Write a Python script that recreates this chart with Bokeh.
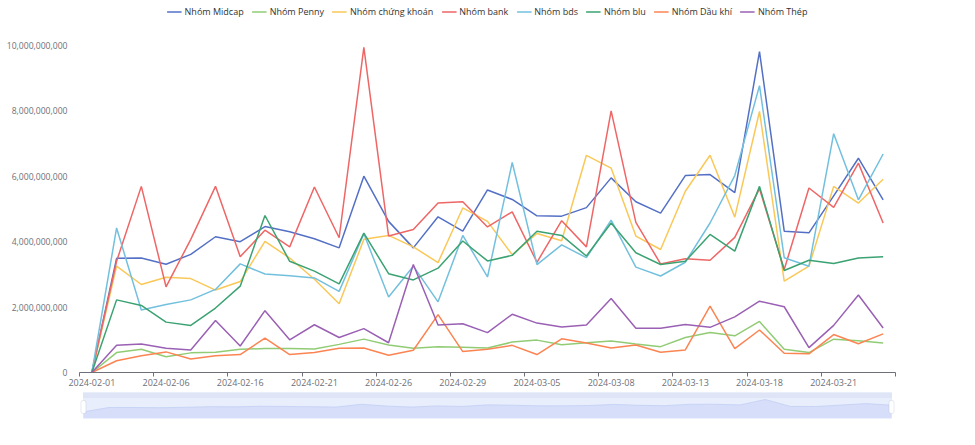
from bokeh.plotting import figure
from bokeh.layouts import column
from bokeh.models import (FixedTicker, NumeralTickFormatter, Range1d, Legend, LegendItem,
                          BoxAnnotation)
from bokeh.embed import file_html
from bokeh.resources import INLINE

# ---------------- data ----------------
dates = ["2024-02-01", "2024-02-02", "2024-02-05", "2024-02-06", "2024-02-07", "2024-02-15",
         "2024-02-16", "2024-02-19", "2024-02-20", "2024-02-21", "2024-02-22", "2024-02-23",
         "2024-02-26", "2024-02-27", "2024-02-28", "2024-02-29", "2024-03-01", "2024-03-04",
         "2024-03-05", "2024-03-06", "2024-03-07", "2024-03-08", "2024-03-11", "2024-03-12",
         "2024-03-13", "2024-03-14", "2024-03-15", "2024-03-18", "2024-03-19", "2024-03-20",
         "2024-03-21", "2024-03-22", "2024-03-25"]

B = 1e9
midcap = [0, 3.49, 3.50, 3.31, 3.61, 4.15, 4.00, 4.46, 4.30, 4.09, 3.81, 6.00, 4.62, 3.81, 4.76, 4.32,
          5.58, 5.29, 4.79, 4.78, 5.04, 5.95, 5.22, 4.87, 6.02, 6.05, 5.50, 9.81, 4.32, 4.27, 5.40, 6.55, 5.28]
penny = [0, 0.61, 0.71, 0.48, 0.60, 0.62, 0.71, 0.73, 0.73, 0.72, 0.86, 1.02, 0.84, 0.74, 0.79, 0.77,
         0.75, 0.93, 0.99, 0.85, 0.91, 0.96, 0.87, 0.79, 1.07, 1.22, 1.12, 1.56, 0.71, 0.61, 1.02, 0.97, 0.90]
chungkhoan = [0, 3.25, 2.69, 2.91, 2.87, 2.52, 2.78, 4.01, 3.50, 2.85, 2.10, 4.07, 4.19, 3.84, 3.36, 5.03,
              4.62, 3.60, 4.25, 4.03, 6.64, 6.25, 4.17, 3.76, 5.54, 6.64, 4.75, 7.98, 2.79, 3.25, 5.69, 5.18, 5.91]
bank = [0, 3.40, 5.69, 2.62, 4.07, 5.69, 3.54, 4.35, 3.84, 5.67, 4.12, 9.94, 4.17, 4.37, 5.18, 5.22,
        4.45, 4.91, 3.37, 4.64, 3.84, 8.00, 4.59, 3.32, 3.48, 3.43, 4.13, 5.62, 3.15, 5.64, 5.05, 6.40, 4.57]
bds = [0, 4.42, 1.91, 2.08, 2.22, 2.54, 3.32, 3.01, 2.96, 2.89, 2.48, 4.24, 2.31, 3.25, 2.16, 4.19,
       2.92, 6.42, 3.30, 3.90, 3.51, 4.66, 3.22, 2.95, 3.37, 4.57, 6.02, 8.77, 3.51, 3.25, 7.30, 5.28, 6.68]
blu = [0, 2.22, 2.05, 1.54, 1.44, 1.97, 2.64, 4.80, 3.40, 3.10, 2.71, 4.26, 3.02, 2.83, 3.19, 4.02,
       3.41, 3.58, 4.32, 4.19, 3.56, 4.57, 3.66, 3.30, 3.40, 4.22, 3.71, 5.69, 3.12, 3.43, 3.33, 3.50, 3.54]
daukhi = [0, 0.36, 0.51, 0.63, 0.41, 0.51, 0.55, 1.05, 0.55, 0.61, 0.74, 0.75, 0.53, 0.68, 1.77, 0.64,
          0.71, 0.83, 0.55, 1.03, 0.90, 0.75, 0.84, 0.62, 0.69, 2.03, 0.73, 1.30, 0.59, 0.57, 1.16, 0.88, 1.18]
thep = [0, 0.83, 0.87, 0.74, 0.69, 1.59, 0.81, 1.89, 1.00, 1.46, 1.07, 1.34, 0.91, 3.30, 1.45, 1.49,
        1.22, 1.78, 1.51, 1.39, 1.45, 2.26, 1.35, 1.35, 1.47, 1.38, 1.70, 2.18, 2.01, 0.76, 1.44, 2.37, 1.36]

series_names = ["Nhóm Midcap", "Nhóm Penny", "Nhóm chứng khoán", "Nhóm bank",
                "Nhóm bds", "Nhóm blu", "Nhóm Dầu khí", "Nhóm Thép"]
series_values = [midcap, penny, chungkhoan, bank, bds, blu, daukhi, thep]
colors = ["#5470c6", "#91cc75", "#fac858", "#ee6666", "#73c0de", "#3ba272", "#fc8452", "#9a60b4"]

y_ticks = [0, 2e9, 4e9, 6e9, 8e9, 10e9]
label_every = 3

FONT = "Open Sans"
AXIS_COLOR = "#6e7079"
W = 970

# ---------------- main chart ----------------
n = len(dates)
idx = list(range(n))
px_per_unit = 32.8 / B           # pixels per value unit (from reference scale)
frame_h = 373
y_top = frame_h / px_per_unit

p = figure(width=W, height=388, output_backend="svg", toolbar_location=None,
           x_range=Range1d(-0.5, n - 0.5), y_range=Range1d(0, y_top),
           min_border_left=79, min_border_right=W - 895, min_border_top=0, min_border_bottom=0)
p.outline_line_color = None
p.xgrid.visible = False
p.ygrid.visible = False
p.background_fill_color = "white"
p.border_fill_color = "white"

items = []
for name, vals, c in zip(series_names, series_values, colors):
    yv = [v * B for v in vals]
    r = p.line(idx, yv, line_color=c, line_width=1.5)
    m = p.scatter(x=[], y=[], marker="circle", fill_color="white", line_color=c, line_width=1.5)
    items.append(LegendItem(label=name, renderers=[r, m]))

legend = Legend(items=items, orientation="horizontal", location="top_center",
                label_text_font=FONT, label_text_font_size="9px", label_text_color="#333333",
                glyph_width=15, glyph_height=17, label_height=12, label_standoff=3,
                spacing=8, padding=0, margin=3, border_line_color=None,
                background_fill_alpha=0)
p.add_layout(legend)

# y axis
p.yaxis.ticker = FixedTicker(ticks=y_ticks)
p.yaxis.formatter = NumeralTickFormatter(format="0,0")
p.yaxis.axis_line_color = None
p.yaxis.major_tick_line_color = None
p.yaxis.minor_tick_line_color = None
p.yaxis.major_label_text_font = FONT
p.yaxis.major_label_text_font_size = "8.6px"
p.yaxis.major_label_text_color = AXIS_COLOR
p.yaxis.major_label_standoff = 6

# x axis (category style: labels at band centres, ticks at band boundaries)
label_ticks = list(range(0, n, label_every))
boundary_ticks = [t - 0.5 for t in range(0, n + 1, label_every)]
p.xaxis.ticker = FixedTicker(ticks=label_ticks, minor_ticks=boundary_ticks)
p.xaxis.major_label_overrides = {t: dates[t] for t in label_ticks}
p.xaxis.axis_line_color = AXIS_COLOR
p.xaxis.major_tick_line_color = None
p.xaxis.major_tick_out = 4
p.xaxis.major_tick_in = 0
p.xaxis.minor_tick_line_color = AXIS_COLOR
p.xaxis.minor_tick_out = 4
p.xaxis.minor_tick_in = 0
p.xaxis.major_label_text_font = FONT
p.xaxis.major_label_text_font_size = "9px"
p.xaxis.major_label_text_color = AXIS_COLOR
p.xaxis.major_label_standoff = 2

# ---------------- data-zoom slider ----------------
vmin, vmax = min(midcap), max(midcap)
rng = vmax - vmin
lo = vmin - 0.53 * rng
hi = vmax + 0.16 * rng
data_px = 21.0
strip_px = 5.0
top = hi + (hi - lo) * strip_px / data_px
unit_x = 816.0 / (n - 1)
pad = 4.0 / unit_x

s = figure(width=W, height=32, output_backend="svg", toolbar_location=None,
           x_range=Range1d(-pad, n - 1 + pad), y_range=Range1d(lo, top),
           min_border_left=76, min_border_right=W - 900, min_border_top=4, min_border_bottom=2)
s.axis.visible = False
s.grid.visible = False
s.outline_line_color = None
s.background_fill_color = "white"
s.border_fill_color = "white"

s.add_layout(BoxAnnotation(left=0, right=n - 1, fill_color="#e9eefd", fill_alpha=1,
                           line_color="#d2dbee", line_width=1, level="underlay"))
s.varea(x=idx, y1=[lo] * n, y2=midcap, fill_color="#d6defa", fill_alpha=1)
s.line(idx, midcap, line_color="#c3cff3", line_width=0.8)
s.add_layout(BoxAnnotation(left=0, right=n - 1, bottom=hi, fill_color="#dfe5f7", fill_alpha=1,
                           line_color="#d2dbee", line_width=1))
h_lo = lo + (hi - lo) * 0.24
h_hi = lo + (hi - lo) * 0.86
hw = 2.5 / unit_x
for hx in (0, n - 1):
    s.add_layout(BoxAnnotation(left=hx - hw, right=hx + hw, bottom=h_lo, top=h_hi,
                               fill_color="white", fill_alpha=1, line_color="#acb8d1",
                               line_width=1, border_radius=2))

layout = column(p, s, spacing=0)
open("out.html", "w").write(file_html(layout, INLINE))
